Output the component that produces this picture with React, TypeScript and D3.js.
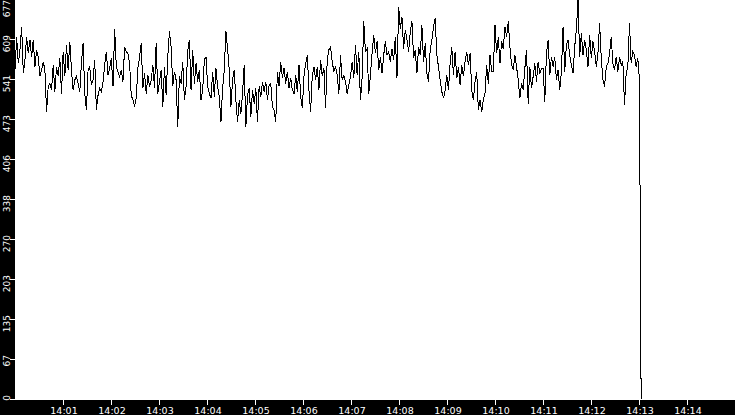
import React from "react";
import * as d3 from "d3";

const SEGMENT_1 = [
  557, 613, 568, 591, 630, 551, 574, 613, 585, 608,
  579, 608, 562, 591, 579, 546, 557, 571, 557, 486,
  529, 534, 523, 565, 520, 562, 546, 577, 517, 588,
  546, 599, 557, 605, 557, 523, 540, 546, 534, 520,
  568, 602, 517, 489, 557, 562, 531, 540, 574, 489,
  514, 526, 520, 537, 565, 588, 548, 560, 577, 529,
  626, 562, 554, 546, 557, 537, 596, 588, 585, 568,
  514, 506, 495, 509, 560, 579, 602, 526, 551, 517,
  548, 529, 540, 565, 526, 602, 517, 537, 557, 495,
  562, 514, 579, 622, 596,
];
const SEGMENT_2 = [
  529, 554, 540, 461, 546, 534, 571, 506, 529, 588,
  608, 523, 591, 534, 568, 537, 557, 506, 523, 574,
  579, 529, 517, 509, 554, 512, 560, 529, 512,
  469, 526, 557, 622, 593, 557, 495, 540, 557, 506,
  469, 506, 483, 517, 565, 461, 514, 526, 478, 523,
  500, 526, 469, 529, 512, 537, 520, 537, 506, 531,
  534, 495, 489, 469, 554, 529, 571, 543, 560,
  534, 554, 526, 543, 523, 517, 548, 520, 565,
  512, 492, 546, 568, 582, 523, 486, 548, 562, 540,
  562, 523, 574, 546, 560, 492, 574, 591, 596,
];
const SEGMENT_3 = [
  571, 554, 562, 548, 517, 582, 540, 548, 537, 517,
  531, 546, 571, 543, 599, 548, 588, 506, 543, 639,
  588, 593, 517, 548, 585, 616, 585, 605, 557, 579,
  551, 582, 605, 582, 588, 571, 593, 574, 613, 543,
  664, 627, 647, 593, 625, 608, 588, 622, 639, 577,
  591, 551, 596, 582, 633, 571, 602, 551, 537, 591,
  608, 630, 644, 582, 562, 540, 520, 509, 523, 548,
  523, 568, 596, 548, 588, 543, 562, 531, 565, 546,
  571, 588, 565, 585, 523, 506, 537, 554, 489, 506,
  486, 506, 517, 565, 534, 582, 554,
];
const SEGMENT_4 = [
  554, 633, 585, 613, 568, 605, 593, 630, 613, 639,
  596, 565, 557, 582, 562, 540, 509, 534, 523, 560,
  591, 500, 562, 526, 546, 568, 537, 571, 551, 560,
  560, 503, 585, 608, 548, 579, 562, 579, 540, 557,
  523, 554, 630, 554, 599, 608, 582, 565, 551, 596,
  625, 677, 579, 619, 582, 608, 591, 562, 616, 577,
  605, 588, 562, 585, 636, 577, 540, 529, 562, 568,
  585, 613, 568, 557, 579, 554, 579, 565, 571, 498,
  551, 562, 636, 568, 588, 582, 562, 577, 540,
];
const FINAL_VALUE = [0];

const START = new Date(2024, 0, 1, 14, 0, 0);
const END = new Date(2024, 0, 1, 14, 15, 0);
const SAMPLE_MS = 2076;
const Y_MAX = 677;
const Y_TICK_COUNT = 10;
const X_TICK_LABELS_FORMAT = "%H:%M";

const WIDTH = 735;
const HEIGHT = 415;
const LEFT = 15;
const BOTTOM = 400;

export default function App() {
  const values = [...SEGMENT_1, ...SEGMENT_2, ...SEGMENT_3, ...SEGMENT_4, ...FINAL_VALUE];
  const data = values.map((v, i) => ({ t: new Date(START.getTime() + i * SAMPLE_MS), v }));

  const x = d3.scaleTime().domain([START, END]).range([LEFT, WIDTH]);
  const y = d3.scaleLinear().domain([0, Y_MAX]).range([BOTTOM - 1, -1]);

  const line = d3
    .line<{ t: Date; v: number }>()
    .x((d) => x(d.t))
    .y((d) => y(d.v));

  const xTicks = d3.timeMinute.every(1)!.range(new Date(START.getTime() + 60000), END);
  const fmt = d3.timeFormat(X_TICK_LABELS_FORMAT);
  const yTicks = d3.range(0, Y_TICK_COUNT + 1).map((k) => (k * Y_MAX) / Y_TICK_COUNT);

  const font = "'DejaVu Sans', sans-serif";

  return (
    <svg
      width={WIDTH}
      height={HEIGHT}
      style={{ position: "fixed", left: 0, top: 0, display: "block" }}
    >
      <rect x={0} y={0} width={WIDTH} height={HEIGHT} fill="#000" />
      <rect x={LEFT} y={0} width={WIDTH - LEFT} height={BOTTOM} fill="#fff" />
      <path
        d={line(data) || ""}
        fill="none"
        stroke="#000"
        strokeWidth={1}
        shapeRendering="crispEdges"
      />
      {yTicks.map((v, i) => {
        const yy = Math.round(y(v));
        const top = Math.max(0, yy - 4);
        return (
          <g key={"y" + i}>
            <line
              x1={10}
              x2={LEFT}
              y1={yy + 0.5}
              y2={yy + 0.5}
              stroke="#fff"
              strokeWidth={1}
              shapeRendering="crispEdges"
            />
            <text
              transform={`translate(10,${top}) rotate(-90)`}
              textAnchor="end"
              fill="#fff"
              fontFamily={font}
              fontSize={9}
            >
              {Math.floor(v + 1e-9)}
            </text>
          </g>
        );
      })}
      {xTicks.map((t, i) => {
        const xx = Math.round(x(t));
        return (
          <g key={"x" + i}>
            <line
              x1={xx + 0.5}
              x2={xx + 0.5}
              y1={BOTTOM}
              y2={BOTTOM + 5}
              stroke="#fff"
              strokeWidth={1}
              shapeRendering="crispEdges"
            />
            <text
              x={xx + 1}
              y={414}
              textAnchor="middle"
              fill="#fff"
              fontFamily={font}
              fontSize={9.5}
            >
              {fmt(t)}
            </text>
          </g>
        );
      })}
    </svg>
  );
}
